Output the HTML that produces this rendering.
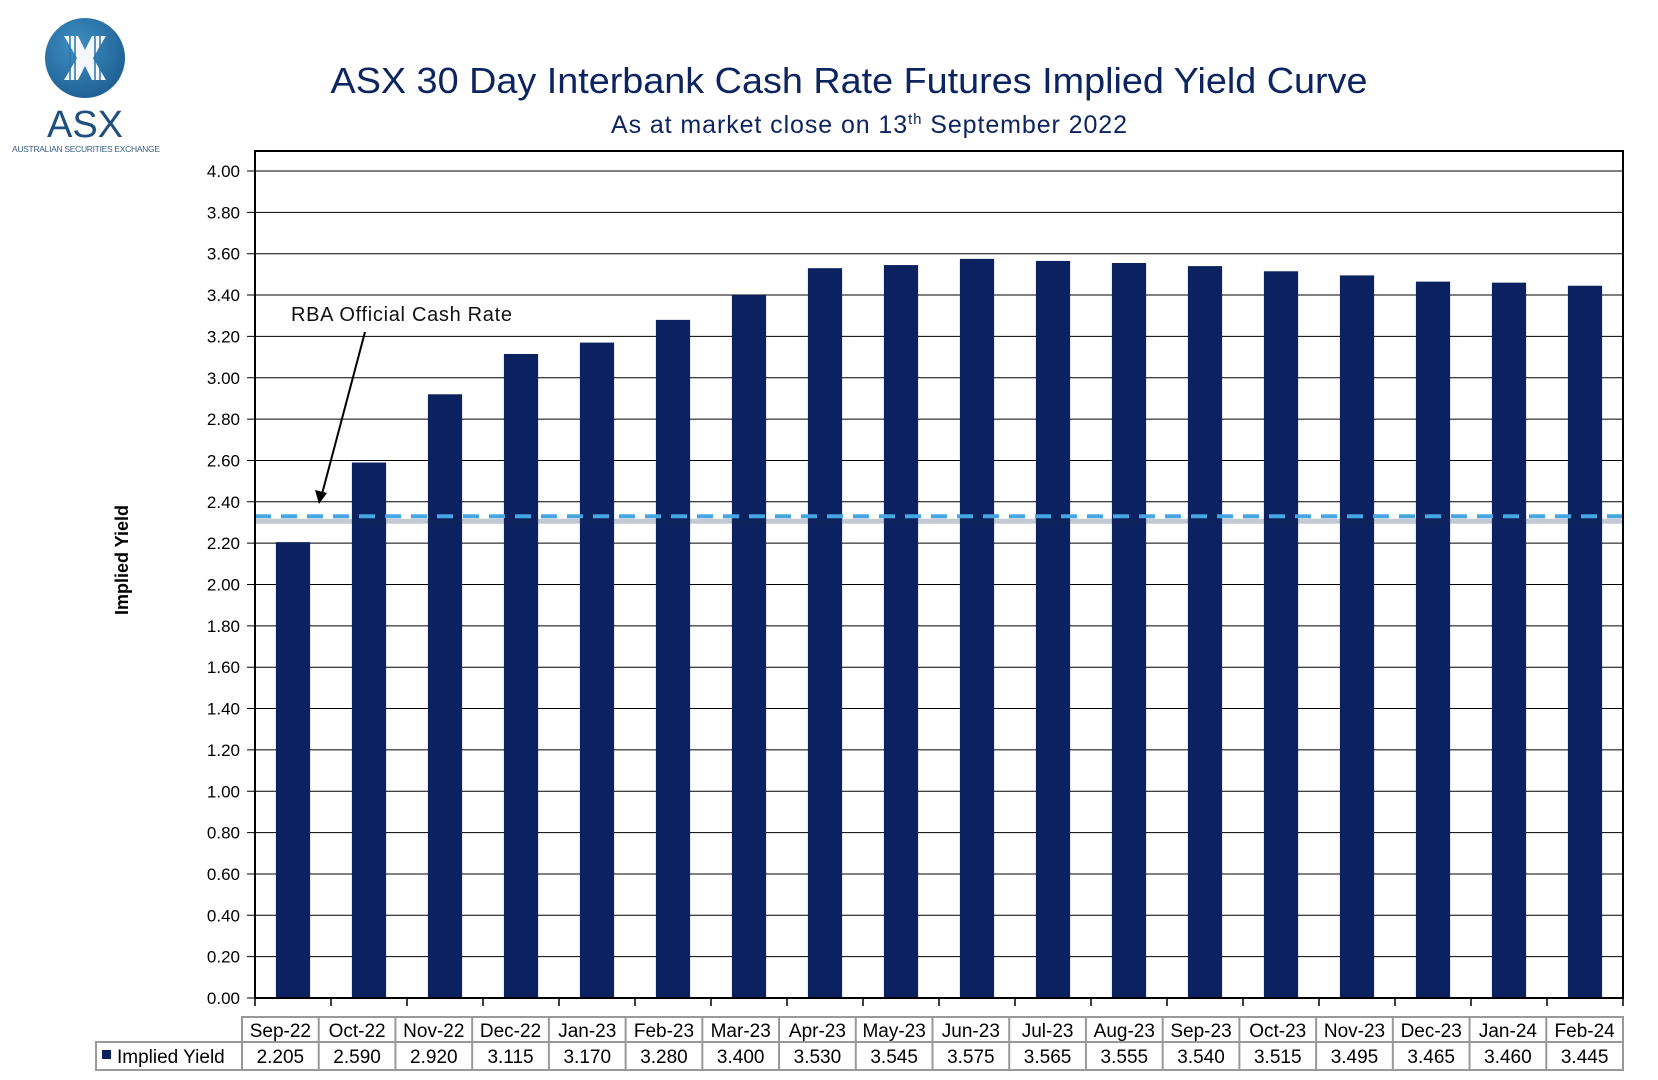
<!DOCTYPE html>
<html><head><meta charset="utf-8"><style>
body{margin:0;background:#fff;width:1658px;height:1080px;overflow:hidden}
svg{display:block;font-family:"Liberation Sans",sans-serif}
</style></head><body>
<svg id="chart" width="1658" height="1080" viewBox="0 0 1658 1080">
<defs><radialGradient id="lg" cx="40%" cy="35%" r="70%"><stop offset="0" stop-color="#3f8fc4"/><stop offset="1" stop-color="#1d5f92"/></radialGradient></defs>
<g>
<circle cx="85" cy="58" r="40" fill="url(#lg)"/>
<g fill="#fff" opacity="0.95">
<polygon points="64,36 78,36 85,50 92,36 106,36 93,58 106,80 92,80 85,66 78,80 64,80 77,58"/>
</g>
<g stroke="#2a74a8" stroke-width="1.5"><line x1="70" y1="36" x2="70" y2="80"/><line x1="75" y1="36" x2="75" y2="80"/><line x1="95" y1="36" x2="95" y2="80"/><line x1="100" y1="36" x2="100" y2="80"/></g>
<text x="85" y="137" text-anchor="middle" font-size="38" fill="#1f4f7e">ASX</text>
<text x="86" y="152" text-anchor="middle" font-size="8.5" fill="#3a5f84" textLength="148">AUSTRALIAN SECURITIES EXCHANGE</text>
</g>
<text x="849" y="93" text-anchor="middle" font-size="36" fill="#0c2460" textLength="1037" lengthAdjust="spacingAndGlyphs">ASX 30 Day Interbank Cash Rate Futures Implied Yield Curve</text>
<text x="869" y="133" text-anchor="middle" font-size="25" fill="#0c2460" textLength="516">As at market close on 13<tspan dy="-9" font-size="15">th</tspan><tspan dy="9"> September 2022</tspan></text>
<text transform="translate(128,560) rotate(-90)" text-anchor="middle" font-size="18" font-weight="bold">Implied Yield</text>
<g id="grid"></g><g id="bars"></g><g id="table"></g>
<line id="rbashadow" x1="255" x2="1623" stroke="#1a2a50" stroke-width="5" opacity="0.25"/>
<line id="rba" x1="255" x2="1623" stroke="#46a6e2" stroke-width="4" stroke-dasharray="16,10"/>
<text x="291" y="321" font-size="20" fill="#111" textLength="221">RBA Official Cash Rate</text>
<line x1="365" y1="332" x2="322" y2="494" stroke="#000" stroke-width="2"/>
<polygon points="319,504 315,490 327,493" fill="#000"/>
<rect x="255" y="151" width="1368" height="847" fill="none" stroke="#000" stroke-width="2"/>
</svg>
<script>
const categories=["Sep-22","Oct-22","Nov-22","Dec-22","Jan-23","Feb-23","Mar-23","Apr-23","May-23","Jun-23","Jul-23","Aug-23","Sep-23","Oct-23","Nov-23","Dec-23","Jan-24","Feb-24"];
const yields=[2.205,2.590,2.920,3.115,3.170,3.280,3.400,3.530,3.545,3.575,3.565,3.555,3.540,3.515,3.495,3.465,3.460,3.445];
const yieldLabels=["2.205","2.590","2.920","3.115","3.170","3.280","3.400","3.530","3.545","3.575","3.565","3.555","3.540","3.515","3.495","3.465","3.460","3.445"];
const yTicks=[0,0.2,0.4,0.6,0.8,1.0,1.2,1.4,1.6,1.8,2.0,2.2,2.4,2.6,2.8,3.0,3.2,3.4,3.6,3.8,4.0];
const rbaRate=[2.33];
const NS="http://www.w3.org/2000/svg";
const L=255,R=1623,B=998,T171=171,YMAX=4.0;
const y=v=>B-(v/YMAX)*(B-T171);
const band=(R-L)/categories.length;
const x=i=>L+band*i;
function mk(p,t,a){const e=document.createElementNS(NS,t);for(const k in a)e.setAttribute(k,a[k]);p.appendChild(e);return e;}
const grid=document.getElementById('grid');
yTicks.forEach(v=>{
 const l=mk(grid,'line',{x1:L-8,x2:R,y1:y(v),y2:y(v),stroke:'#000','stroke-width':1});
 
 
 const t=mk(grid,'text',{x:240,y:y(v)+6,'text-anchor':'end','font-size':17});
 t.textContent=v.toFixed(2);
 
 
});
for(let i=0;i<=categories.length;i++){mk(grid,'line',{x1:x(i),x2:x(i),y1:B,y2:B+8,stroke:'#000','stroke-width':1.5});}
const bars=document.getElementById('bars');
const bw=band*0.45;
yields.forEach((v,i)=>{
 const r=mk(bars,'rect',{x:x(i)+(band-bw)/2,y:y(v),width:bw,height:B-y(v),fill:'#0b2160'});
 
 
});
const ry=y(rbaRate[0]);
const rba=document.getElementById('rba');rba.setAttribute('y1',ry);rba.setAttribute('y2',ry);
const rs=document.getElementById('rbashadow');rs.setAttribute('y1',ry+5);rs.setAttribute('y2',ry+5);
const tb=document.getElementById('table');
const tl=242,cw=(R-tl)/categories.length,r1=1017,r2=1042,r3=1070;
mk(tb,'rect',{x:96,y:r2,width:R-96,height:r3-r2,fill:'none',stroke:'#999','stroke-width':2});
mk(tb,'rect',{x:tl,y:r1,width:R-tl,height:r3-r1,fill:'none',stroke:'#999','stroke-width':2});
mk(tb,'rect',{x:102,y:1050,width:9,height:9,fill:'#0b2160'});
const lg=mk(tb,'text',{x:117,y:1063,'font-size':19});lg.textContent='Implied Yield';


categories.forEach((c,i)=>{
 const cx=tl+cw*i;
 if(i>0)mk(tb,'line',{x1:cx,x2:cx,y1:r1,y2:r3,stroke:'#999','stroke-width':2});
 const h=mk(tb,'text',{x:cx+cw/2,y:r1+20,'text-anchor':'middle','font-size':19});h.textContent=c;
 
 
 const d=mk(tb,'text',{x:cx+cw/2,y:r2+21,'text-anchor':'middle','font-size':19});d.textContent=yieldLabels[i];
 
 
});
mk(tb,'line',{x1:tl,x2:tl,y1:r1,y2:r3,stroke:'#999','stroke-width':2});
</script>
</body></html>
